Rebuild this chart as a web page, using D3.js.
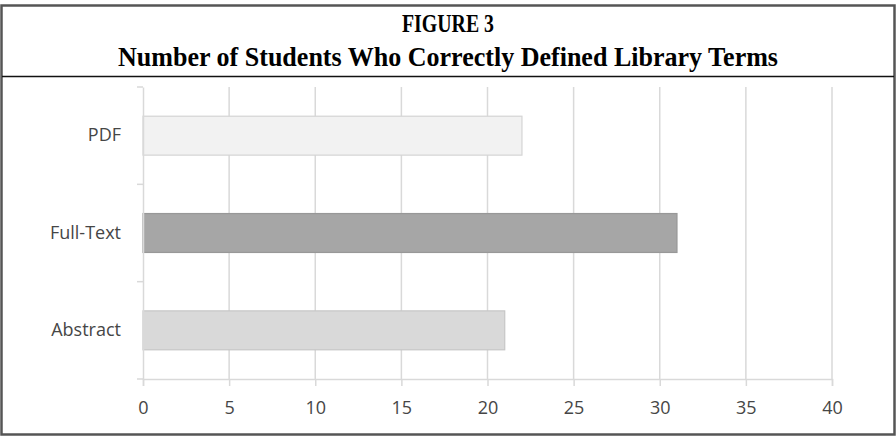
<!DOCTYPE html>
<html>
<head>
<meta charset="utf-8">
<script src="https://cdn.jsdelivr.net/npm/d3@7"></script>
<style>
  body { margin: 0; background: #fff; }
  svg { display: block; }
</style>
</head>
<body>
<script>
// data
var categories = ["PDF", "Full-Text", "Abstract"];
var values = [22, 31, 21];
var tickValues = [0, 5, 10, 15, 20, 25, 30, 35, 40];
var titleLines = ["FIGURE 3", "Number of Students Who Correctly Defined Library Terms"];

var W = 896, H = 436;
var fills = {"PDF": "#f2f2f2", "Full-Text": "#a6a6a6", "Abstract": "#d9d9d9"};
var strokes = {"PDF": "#d4d4d4", "Full-Text": "#989898", "Abstract": "#c6c6c6"};

var svg = d3.select("body").append("svg")
    .attr("width", W)
    .attr("height", H);

// frame and title
svg.append("rect")
    .attr("x", 1.5).attr("y", 5.5)
    .attr("width", W - 3).attr("height", H - 7)
    .attr("fill", "none")
    .attr("stroke", "#555")
    .attr("stroke-width", 2.5);

svg.append("line")
    .attr("x1", 2).attr("x2", W - 2)
    .attr("y1", 76.5).attr("y2", 76.5)
    .attr("stroke", "#111")
    .attr("stroke-width", 1.5);

svg.append("text")
    .attr("x", 448).attr("y", 32)
    .attr("text-anchor", "middle")
    .style("font-family", "'Liberation Serif', 'Times New Roman', serif")
    .style("font-weight", "bold")
    .style("font-size", "25px")
    .attr("textLength", 92)
    .attr("lengthAdjust", "spacingAndGlyphs")
    .text(titleLines[0]);

svg.append("text")
    .attr("x", 448).attr("y", 66)
    .attr("text-anchor", "middle")
    .style("font-family", "'Liberation Serif', 'Times New Roman', serif")
    .style("font-weight", "bold")
    .style("font-size", "27px")
    .attr("textLength", 660)
    .attr("lengthAdjust", "spacingAndGlyphs")
    .text(titleLines[1]);

// scales
var x = d3.scaleLinear().domain([0, 40]).range([143, 832]);
var y = d3.scaleBand().domain(categories).range([87, 379])
    .paddingInner(0.6).paddingOuter(0.3);

var g = svg.append("g");

// gridlines
g.selectAll(".grid")
    .data(tickValues.slice(1))
    .enter().append("line")
    .attr("class", "grid")
    .attr("x1", function(d) { return x(d); })
    .attr("x2", function(d) { return x(d); })
    .attr("y1", 87).attr("y2", 379)
    .attr("stroke", "#d9d9d9")
    .attr("stroke-width", 1.5);

// bars
g.selectAll(".bar")
    .data(categories)
    .enter().append("rect")
    .attr("class", "bar")
    .attr("x", x(0))
    .attr("y", function(d) { return y(d); })
    .attr("width", function(d, i) { return x(values[i]) - x(0); })
    .attr("height", y.bandwidth())
    .attr("fill", function(d) { return fills[d]; })
    .attr("stroke", function(d) { return strokes[d]; })
    .attr("stroke-width", 1.2);

// x axis
var xAxis = g.append("g")
    .attr("transform", "translate(0,379)")
    .call(d3.axisBottom(x).tickValues(tickValues).tickSize(7).tickPadding(15));

// y axis, ticks at band boundaries
var yAxis = g.append("g")
    .attr("transform", "translate(143,0)")
    .call(d3.axisLeft(y).tickSize(0).tickPadding(22));

var bounds = [87].concat(categories.map(function(d) { return y(d) + y.bandwidth() + y.step() * y.paddingInner() / 2; }));
bounds[bounds.length - 1] = 379;
yAxis.selectAll(".bound")
    .data(bounds)
    .enter().append("line")
    .attr("class", "bound")
    .attr("x1", -6).attr("x2", 0)
    .attr("y1", function(d) { return d; })
    .attr("y2", function(d) { return d; })
    .attr("stroke", "#d9d9d9")
    .attr("stroke-width", 1.5);

[xAxis, yAxis].forEach(function(a) {
    a.select(".domain").attr("stroke", "#d9d9d9").attr("stroke-width", 1.5);
    a.selectAll(".tick line").attr("stroke", "#d9d9d9").attr("stroke-width", 1.5);
    a.selectAll("text")
        .style("font-family", "'Open Sans', sans-serif")
        .style("font-size", "18px")
        .attr("fill", "#464646");
});
</script>
</body>
</html>
